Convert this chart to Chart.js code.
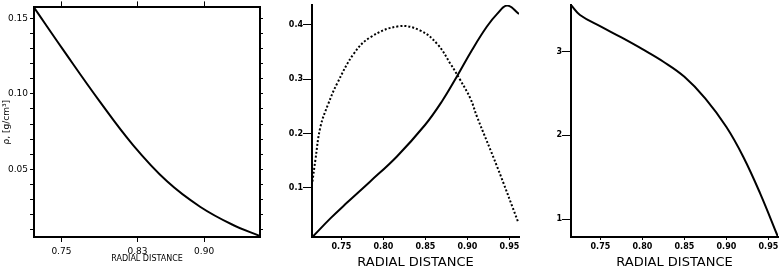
<!DOCTYPE html>
<html>
<head>
<meta charset="utf-8">
<script src="https://cdn.jsdelivr.net/npm/chart.js@4.4.0/dist/chart.umd.min.js"></script>
<style>
  body { margin: 0; background: #fff; }
  canvas { position: absolute; top: 0; }
</style>
</head>
<body>
<canvas id="density" width="270" height="267" style="left:0px"></canvas>
<canvas id="profiles" width="260" height="267" style="left:270px"></canvas>
<canvas id="third" width="252" height="267" style="left:530px"></canvas>
<script>
// panneau 1 : densite
const rhoX = [0.7212, 0.7517, 0.7906, 0.8253, 0.8610, 0.8957, 0.9304, 0.9587];
const rhoY = [0.1572, 0.1293, 0.0947, 0.0661, 0.0421, 0.0253, 0.0132, 0.0059];
const rhoXTicks = [0.75, 0.83, 0.90];
const rhoXLabels = ['0.75', '0.83', '0.90'];
const rhoYTicks = [0.01, 0.02, 0.03, 0.04, 0.05, 0.06, 0.07, 0.08, 0.09, 0.10, 0.11, 0.12, 0.13, 0.14, 0.15];
const rhoYLabels = ['', '', '', '', '0.05', '', '', '', '', '0.10', '', '', '', '', '0.15'];

// panneau 2 : deux courbes
const solidX = [0.7155, 0.7369, 0.7568, 0.784, 0.8158, 0.8495, 0.8694, 0.8873, 0.9055, 0.923, 0.9354, 0.9473, 0.9614];
const solidY = [0.0099, 0.0441, 0.0731, 0.1115, 0.1574, 0.2156, 0.2584, 0.3043, 0.3534, 0.396, 0.4196, 0.435, 0.4196];
const dotX = [0.7155, 0.7190, 0.7250, 0.7345, 0.7448, 0.7647, 0.7845, 0.8182, 0.8440, 0.8639, 0.8798, 0.8917, 0.9036, 0.9115, 0.9354, 0.9607];
const dotY = [0.1115, 0.151, 0.2121, 0.255, 0.2915, 0.3464, 0.3768, 0.3969, 0.389, 0.3647, 0.3281, 0.2976, 0.2641, 0.2304, 0.139, 0.036];
const midYTicks = [0.1, 0.2, 0.3, 0.4];
const midYLabels = ['0.1', '0.2', '0.3', '0.4'];

// panneau 3
const rightX = [0.715, 0.7257, 0.7507, 0.775, 0.80, 0.825, 0.85, 0.875, 0.90, 0.92, 0.94, 0.9614];
const rightY = [3.558, 3.439, 3.299, 3.17, 3.03, 2.88, 2.70, 2.44, 2.10, 1.745, 1.31, 0.785];
const rightYTicks = [1, 2, 3];
const rightYLabels = ['1', '2', '3'];

const distTicks = [0.75, 0.80, 0.85, 0.90, 0.95];
const distLabels = ['0.75', '0.80', '0.85', '0.90', '0.95'];

const pts = (xs, ys) => xs.map((x, i) => ({ x: x, y: ys[i] }));
const setTicks = vals => axis => { axis.ticks = vals.map(v => ({ value: v })); };
const width = w => axis => { axis.width = w; };
const height = h => axis => { axis.height = h; };

const black = '#000';
const thin = { family: 'DejaVu Sans', size: 9 };
const bold = { family: 'DejaVu Sans', size: 8, weight: 'bold' };

function line(data, dash) {
    return {
        data: data,
        borderColor: black,
        borderWidth: 2,
        borderDash: dash || [],
        pointRadius: 0,
        fill: false,
        tension: 0.4
    };
}

const common = {
    responsive: false,
    animation: false,
    events: [],
    plugins: { legend: { display: false }, tooltip: { enabled: false } }
};

// Graphique 1 : boite fermee, graduations des 4 cotes
new Chart(document.getElementById('density'), {
    type: 'line',
    data: { datasets: [line(pts(rhoX, rhoY))] },
    options: Object.assign({}, common, {
        layout: { padding: 0 },
        scales: {
            x: {
                type: 'linear', position: 'bottom', min: 0.7212, max: 0.9587,
                afterBuildTicks: setTicks(rhoXTicks), afterFit: height(30),
                ticks: { callback: (v, i) => rhoXLabels[i], font: thin, color: black, padding: 4, maxRotation: 0, autoSkip: false },
                grid: { drawOnChartArea: false, tickLength: 5, tickColor: black },
                border: { display: true, color: black, width: 2 },
                title: { display: true, text: 'RADIAL DISTANCE', font: { family: 'DejaVu Sans', size: 8 }, color: black, padding: { top: 0, bottom: 3 } }
            },
            x2: {
                type: 'linear', position: 'top', min: 0.7212, max: 0.9587,
                afterBuildTicks: setTicks(rhoXTicks), afterFit: height(6),
                ticks: { display: false },
                grid: { drawOnChartArea: false, tickLength: 6, tickColor: black },
                border: { display: true, color: black, width: 2 }
            },
            y: {
                type: 'linear', position: 'left', min: 0.00526, max: 0.15724,
                afterBuildTicks: setTicks(rhoYTicks), afterFit: width(34),
                ticks: { callback: (v, i) => rhoYLabels[i], font: thin, color: black, padding: 2, autoSkip: false },
                grid: { drawOnChartArea: false, tickLength: 4, tickColor: black },
                border: { display: true, color: black, width: 2 },
                title: { display: true, text: 'ρ, [g/cm³]', font: { family: 'DejaVu Sans', size: 9 }, color: black, padding: { top: 1, bottom: 0 } }
            },
            y2: {
                type: 'linear', position: 'right', min: 0.00526, max: 0.15724,
                afterBuildTicks: setTicks(rhoYTicks), afterFit: width(10),
                ticks: { display: false },
                grid: { drawOnChartArea: false, tickLength: 3, tickColor: black },
                border: { display: true, color: black, width: 2 }
            }
        }
    })
});

// axes des panneaux 2 et 3
function distAxis() {
    return {
        type: 'linear', position: 'bottom', min: 0.715, max: 0.9614,
        afterBuildTicks: setTicks(distTicks), afterFit: height(30),
        ticks: { callback: (v, i) => distLabels[i], font: bold, color: black, padding: 2, maxRotation: 0, autoSkip: false },
        grid: { drawOnChartArea: false, tickLength: 3, tickColor: black },
        border: { display: true, color: black, width: 2 },
        title: { display: true, text: 'RADIAL DISTANCE', font: { family: 'DejaVu Sans', size: 13, lineHeight: 1 }, color: black, padding: { top: 0, bottom: -2 } }
    };
}

function valueAxis(min, max, vals, labels, w) {
    return {
        type: 'linear', position: 'left', min: min, max: max,
        afterBuildTicks: setTicks(vals), afterFit: width(w),
        ticks: { callback: (v, i) => labels[i], font: bold, color: black, padding: 0, autoSkip: false },
        grid: { drawOnChartArea: false, tickLength: 9, tickColor: black },
        border: { display: true, color: black, width: 2 }
    };
}

new Chart(document.getElementById('profiles'), {
    type: 'line',
    data: { datasets: [line(pts(dotX, dotY), [2, 2]), line(pts(solidX, solidY))] },
    options: Object.assign({}, common, {
        layout: { padding: { top: 5, right: 11 } },
        scales: {
            x: distAxis(),
            y: valueAxis(0.0099, 0.436, midYTicks, midYLabels, 42)
        }
    })
});

new Chart(document.getElementById('third'), {
    type: 'line',
    data: { datasets: [line(pts(rightX, rightY))] },
    options: Object.assign({}, common, {
        layout: { padding: { top: 5, right: 4 } },
        scales: {
            x: distAxis(),
            y: valueAxis(0.785, 3.558, rightYTicks, rightYLabels, 41)
        }
    })
});
</script>
</body>
</html>
